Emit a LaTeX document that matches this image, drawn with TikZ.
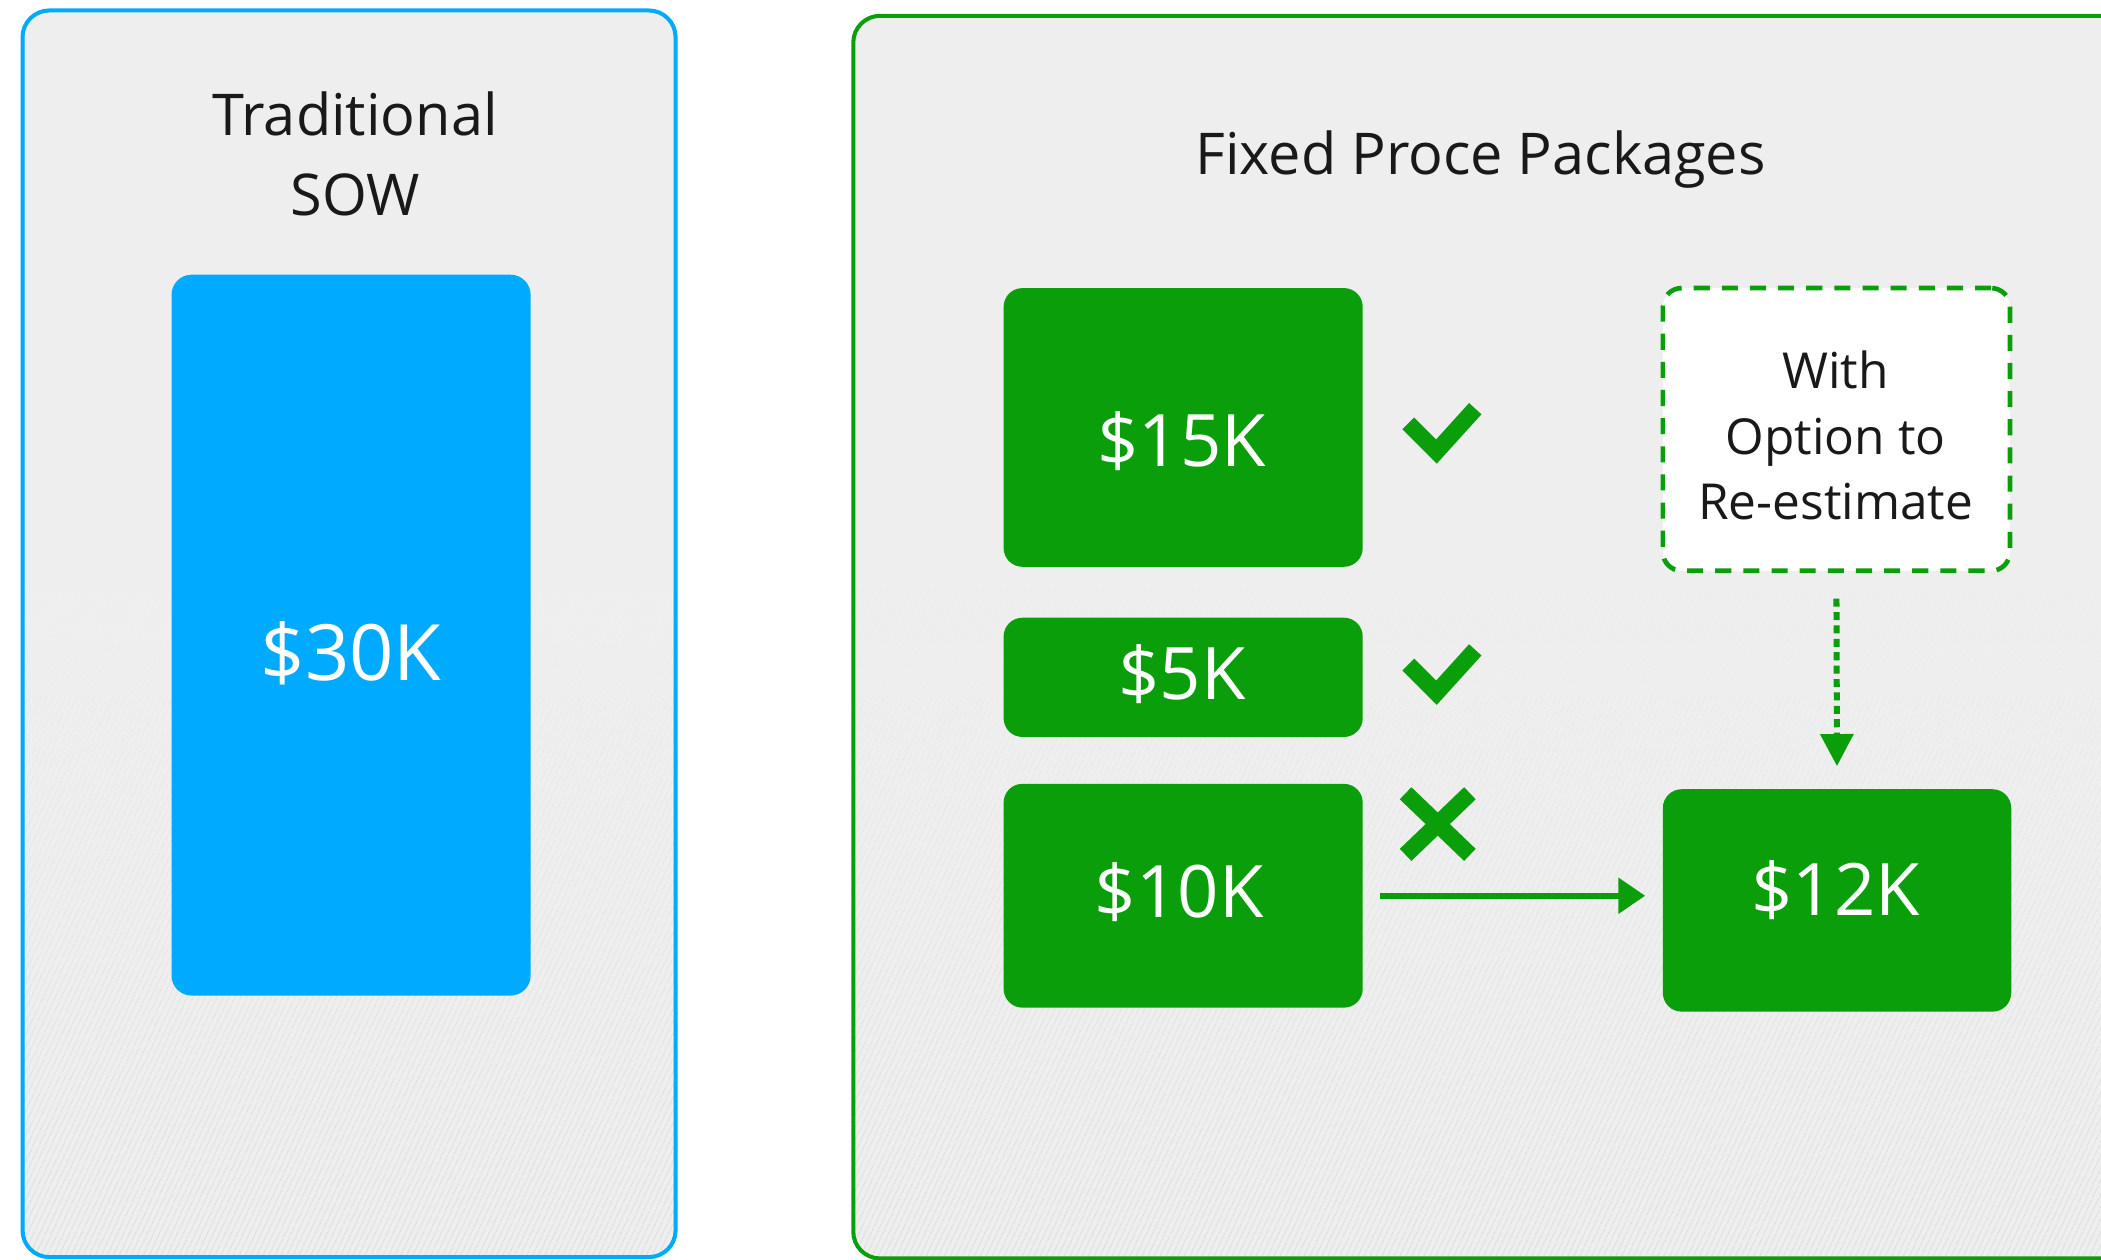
\documentclass[tikz,border=0pt]{standalone}
\usepackage{fontspec}
\setmainfont{Open Sans}
\usetikzlibrary{arrows.meta,patterns.meta}
\definecolor{sowblue}{RGB}{0,170,255}
\definecolor{fpgreen}{RGB}{10,158,10}
\definecolor{panelgray}{RGB}{238,238,238}
\definecolor{inkc}{RGB}{25,25,25}
\begin{document}
\begin{tikzpicture}[x=1pt,y=-1pt,
  panel/.style={rounded corners=20pt, inner sep=0pt, fill=panelgray},
  panelborder/.style={rounded corners=20pt, line width=3pt},
  hatch/.style={pattern={Lines[angle=65,distance=4pt,line width=1.2pt]}, pattern color=black!#1!panelgray},
  pricebox/.style={fill=fpgreen, rounded corners=14pt, minimum width=268, inner sep=0pt},
  pricetext/.style={text=white, font=\fontsize{54}{60}\selectfont, inner sep=0pt, text height=38pt, text depth=0pt},
  titletext/.style={text=inkc, font=\fontsize{43}{60}\selectfont, inner sep=0pt, align=center},
  notetext/.style={text=inkc, font=\fontsize{37}{49}\selectfont, inner sep=0pt, align=center},
  dashbox/.style={draw=fpgreen, fill=white, line width=3.5pt, dash pattern=on 12pt off 9pt, rounded corners=14pt, minimum width=259, minimum height=211, inner sep=0pt},
  conn/.style={draw=fpgreen, line width=4.5pt, -{Triangle[length=20pt,width=26pt]}},
  dotconn/.style={draw=fpgreen, line width=4.5pt, dash pattern=on 6pt off 4pt, -{Triangle[length=24pt,width=24pt]}},
  tickmark/.style={draw=fpgreen, line width=12.5pt}
]
\useasboundingbox (0,0) rectangle (1568,940);

% panels
\node[panel, minimum width=487, minimum height=930] (left) at (260.5,473) {};
\node[panel, minimum width=1000, minimum height=927] (right) at (1137,475.5) {};

% faint hatching, growing towards the bottom of the panels
\foreach \pn in {left,right}{
  \begin{scope}
    \clip[rounded corners=20pt] (\pn.north west) rectangle (\pn.south east);
    \foreach \i in {1,...,13}{
      \pgfmathsetmacro{\shade}{0.5*\i}
      \fill[hatch=\shade] (0,{400+40*\i}) rectangle (1700,{440+40*\i});
    }
  \end{scope}
}
\draw[panelborder, draw=sowblue] (left.north west) rectangle (left.south east);
\draw[panelborder, draw=fpgreen] (right.north west) rectangle (right.south east);

% titles
\node[titletext] (ttrad) at (265,115) {Traditional\\SOW};
\node[titletext, anchor=base] (tfix) at (1105,130) {Fixed Proce Packages};

% left block
\node[pricebox, fill=sowblue, rounded corners=15pt, minimum height=538] (b30) at (262,474) {};
\node[pricetext, font=\fontsize{58}{64}\selectfont, text height=41pt] (t30) at (262,487) {\$30K};

% right blocks
\node[pricebox, minimum height=208] (b15) at (883,319) {};
\node[pricetext] (t15) at (882,329) {\$15K};
\node[pricebox, minimum height=89] (b5) at (883,505.5) {};
\node[pricetext] (t5) at (882,503) {\$5K};
\node[pricebox, minimum height=167] (b10) at (883,668.5) {};
\node[pricetext] (t10) at (880,665.5) {\$10K};
\node[pricebox, minimum width=260, minimum height=166] (b12) at (1371,672) {};
\node[pricetext] (t12) at (1370,664.5) {\$12K};

\node[dashbox] (opt) at (1370.5,320.5) {};
\node[notetext] (optt) at (1370,325) {With\\Option to\\Re-estimate};

% marks
\draw[tickmark] (1051,316) -- (1072,337) -- (1101,305);
\draw[tickmark] (1051,496) -- (1072,517) -- (1101,485);
\draw[tickmark] (1049,592) -- (1097,638);
\draw[tickmark] (1097,592) -- (1049,638);

% connectors
\draw[conn, shorten <=13pt, shorten >=13pt] (b10.east) -- (b10.east -| b12.west);
\draw[dotconn, shorten <=19pt, shorten >=17pt] (opt.south) -- (b12.north);
\end{tikzpicture}
\end{document}
